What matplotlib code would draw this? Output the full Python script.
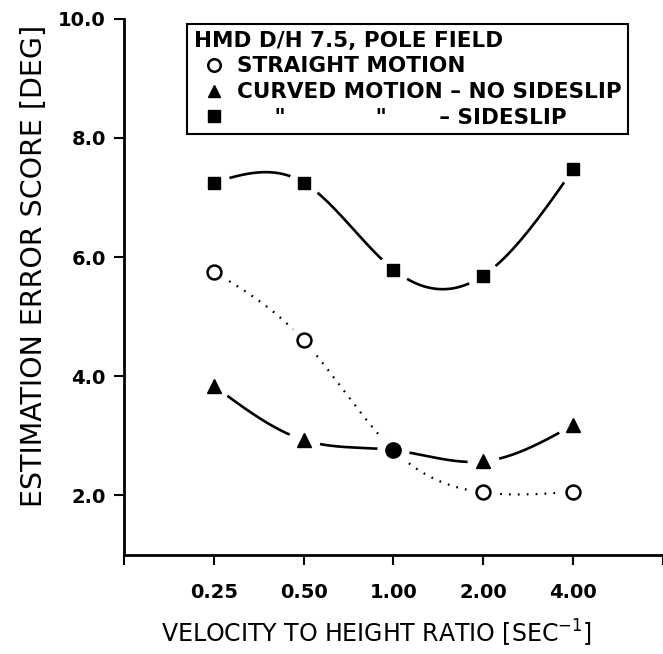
import numpy as np
import matplotlib
matplotlib.use("Agg")
import matplotlib.pyplot as plt
from matplotlib.lines import Line2D

# velocity to height ratio [1/sec]
velocity = [0.25, 0.50, 1.00, 2.00, 4.00]
straight = [5.75, 4.60, 2.76, 2.05, 2.06]
curved_no_slip = [3.84, 2.93, 2.76, 2.57, 3.18]
curved_slip = [7.25, 7.25, 5.79, 5.69, 7.47]

tick_labels = ["", "0.25", "0.50", "1.00", "2.00", "4.00", ""]
y_ticks = [2, 4, 6, 8, 10]


def natural_spline(x, y, n=300):
    x = np.asarray(x, float)
    y = np.asarray(y, float)
    m = len(x)
    h = np.diff(x)
    A = np.zeros((m, m))
    r = np.zeros(m)
    A[0, 0] = A[-1, -1] = 1
    for i in range(1, m - 1):
        A[i, i - 1] = h[i - 1]
        A[i, i] = 2 * (h[i - 1] + h[i])
        A[i, i + 1] = h[i]
        r[i] = 3 * ((y[i + 1] - y[i]) / h[i] - (y[i] - y[i - 1]) / h[i - 1])
    c = np.linalg.solve(A, r)
    b = (y[1:] - y[:-1]) / h - h * (2 * c[:-1] + c[1:]) / 3
    d = (c[1:] - c[:-1]) / (3 * h)
    xs = np.linspace(x[0], x[-1], n)
    idx = np.clip(np.searchsorted(x, xs) - 1, 0, m - 2)
    dx = xs - x[idx]
    ys = y[idx] + b[idx] * dx + c[idx] * dx ** 2 + d[idx] * dx ** 3
    return xs, ys


xpos = np.log2(velocity) + 3

fig = plt.figure(figsize=(6.63, 6.54), dpi=100)
ax = fig.add_axes([0.187, 0.1514, 0.813, 0.82])

# curves
xs, ys = natural_spline(xpos, curved_slip)
ax.plot(xs, ys, color="black", lw=1.9, zorder=2)
xs, ys = natural_spline(xpos, curved_no_slip)
ax.plot(xs, ys, color="black", lw=1.9, zorder=2)
xs, ys = natural_spline(xpos, straight)
ax.plot(xs, ys, color="black", lw=1.6, linestyle=(0, (0.8, 3.2)), zorder=2)

# white halos so the lines stop short of the symbols
for vals in (curved_slip, curved_no_slip, straight):
    ax.plot(xpos, vals, linestyle="none", marker="o", ms=22, mfc="white",
            mec="white", zorder=3)

keep = [0, 1, 3, 4]
ax.plot(xpos, curved_slip, linestyle="none", marker="s", ms=8.5,
        color="black", zorder=4)
ax.plot(xpos[keep], np.array(curved_no_slip)[keep], linestyle="none",
        marker="^", ms=10, color="black", zorder=4)
ax.plot(xpos[keep], np.array(straight)[keep], linestyle="none", marker="o",
        ms=10, mfc="white", mec="black", mew=1.8, zorder=4)
# straight and curved coincide at 1.00
ax.plot(xpos[2], straight[2], linestyle="none", marker="o", ms=11,
        color="black", zorder=4)

ax.set_xlim(0, 6)
ax.set_ylim(1, 10)
ax.set_xticks(range(7))
ax.set_xticklabels(tick_labels)
ax.set_yticks(y_ticks)
ax.set_yticklabels([f"{v:.1f}" for v in y_ticks])
for lab in ax.get_xticklabels() + ax.get_yticklabels():
    lab.set_fontweight("bold")
    lab.set_fontsize(14)
ax.tick_params(axis="both", direction="out", length=7, width=1.5, pad=6)
ax.tick_params(axis="x", pad=13)

for s in ("top", "right"):
    ax.spines[s].set_visible(False)
for s in ("left", "bottom"):
    ax.spines[s].set_linewidth(2)

ax.set_xlabel("VELOCITY TO HEIGHT RATIO [SEC$^{-1}$]", fontsize=17, va="center")
ax.xaxis.set_label_coords(0.469, -0.147)
ax.set_ylabel("ESTIMATION ERROR SCORE [DEG]", fontsize=20.5)
ax.yaxis.set_label_coords(-0.141, 0.54)

handles = [
    Line2D([], [], linestyle="none", marker="o", ms=9, mfc="white", mec="black", mew=1.8),
    Line2D([], [], linestyle="none", marker="^", ms=9, color="black"),
    Line2D([], [], linestyle="none", marker="s", ms=8, color="black"),
]
labels = [
    "STRAIGHT MOTION",
    "CURVED MOTION \u2013 NO SIDESLIP",
    "     \"            \"       \u2013 SIDESLIP",
]
leg = ax.legend(handles, labels, title="HMD D/H 7.5, POLE FIELD",
                loc="upper left", bbox_to_anchor=(0.117, 0.99),
                alignment="left", frameon=True, fancybox=False,
                edgecolor="black", framealpha=1, borderpad=0.3,
                handlelength=1.9, handletextpad=0.1, labelspacing=0.27,
                borderaxespad=0, prop={"size": 15.5, "weight": "bold"},
                title_fontproperties={"size": 15.5, "weight": "bold"})
leg.get_frame().set_linewidth(1.5)

fig.savefig("out.png", dpi=100)
